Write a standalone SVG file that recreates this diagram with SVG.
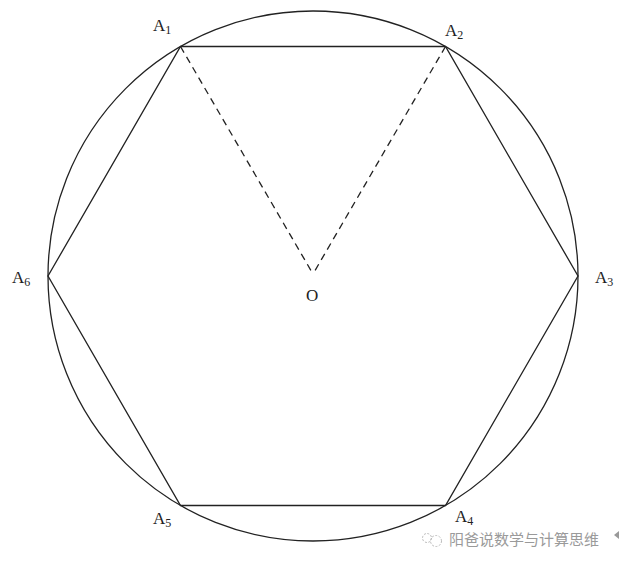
<svg xmlns="http://www.w3.org/2000/svg" width="619" height="564" viewBox="0 0 619 564">
<style>
.ln{stroke:#222;stroke-width:1.3;fill:none}
.ds{stroke:#222;stroke-width:1.3;fill:none;stroke-dasharray:7,5}
.lb{font-family:"Liberation Serif",serif;font-size:17px;fill:#222}
.sb{font-family:"Liberation Serif",serif;font-size:12px;fill:#222}
.wm{font-family:"Noto Sans CJK SC",sans-serif;font-size:15px;fill:#9a9a9a}
</style>
<rect width="619" height="564" fill="#fff"/>
<g id="circle"><circle class="ln" cx="313" cy="276" r="265"/></g>
<g id="hexagon"><polygon class="ln" points="180.5,46.5 445.5,46.5 578,276 445.5,505.5 180.5,505.5 48,276"/></g>
<g id="connectors">
<line class="ds" x1="180.5" y1="46.5" x2="313" y2="274"/>
<line class="ds" x1="445.5" y1="46.5" x2="313" y2="274"/>
</g>
<g id="A1"><text class="lb" x="153" y="31">A<tspan class="sb" dy="3">1</tspan></text></g>
<g id="A2"><text class="lb" x="445" y="36">A<tspan class="sb" dy="3">2</tspan></text></g>
<g id="A3"><text class="lb" x="595" y="283">A<tspan class="sb" dy="3">3</tspan></text></g>
<g id="A4"><text class="lb" x="455" y="522">A<tspan class="sb" dy="3">4</tspan></text></g>
<g id="A5"><text class="lb" x="153" y="524">A<tspan class="sb" dy="3">5</tspan></text></g>
<g id="A6"><text class="lb" x="12" y="283">A<tspan class="sb" dy="3">6</tspan></text></g>
<g id="O"><text class="lb" x="306" y="301">O</text></g>
<g id="watermark">
<circle cx="427" cy="538" r="4.5" fill="none" stroke="#bbb" stroke-width="1" stroke-dasharray="2,1.5"/>
<circle cx="436" cy="541" r="5.5" fill="none" stroke="#bbb" stroke-width="1" stroke-dasharray="2,1.5"/>
<text class="wm" x="449" y="545">阳爸说数学与计算思维</text>
<polygon points="619,531 614,535 619,539" fill="#999"/>
</g>
</svg>
